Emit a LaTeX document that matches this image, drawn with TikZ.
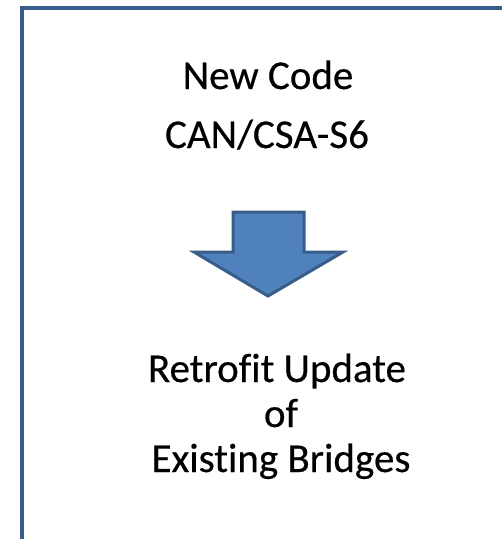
\documentclass[tikz,border=0pt]{standalone}
\usepackage{fontspec}
\setmainfont{Carlito}[Ligatures={NoCommon},FakeBold=0.4]
\definecolor{frameblue}{HTML}{385D8A}
\definecolor{fillblue}{HTML}{4F81BD}
\begin{document}
\begin{tikzpicture}[x=1pt,y=-1pt,
  lbl/.style={anchor=base,inner sep=0pt,font=\fontsize{41}{49}\selectfont,text=black}]
\useasboundingbox (0,0) rectangle (502,539);
\clip (0,0) rectangle (502,539);
\fill[white] (0,0) rectangle (502,539);
% outer frame (extends beyond the visible area on the right and bottom)
\draw[frameblue,line width=4.5pt] (22,8) rectangle (530,570);
% down arrow
\draw[frameblue,line width=3pt,fill=fillblue,line join=miter]
  (233,212) -- (304,212) -- (304,252) -- (343,252) -- (268,296)
  -- (194,252) -- (233,252) -- cycle;
% texts
\node[lbl] (t1) at (268,89) {New Code};
\node[lbl] (t2) at (267,148) {CAN/CSA-S6};
\node[lbl] (t3) at (277,382) {Retrofit Update};
\node[lbl] (t4) at (281,427) {of};
\node[lbl] (t5) at (281,472) {Existing Bridges};
\end{tikzpicture}
\end{document}
